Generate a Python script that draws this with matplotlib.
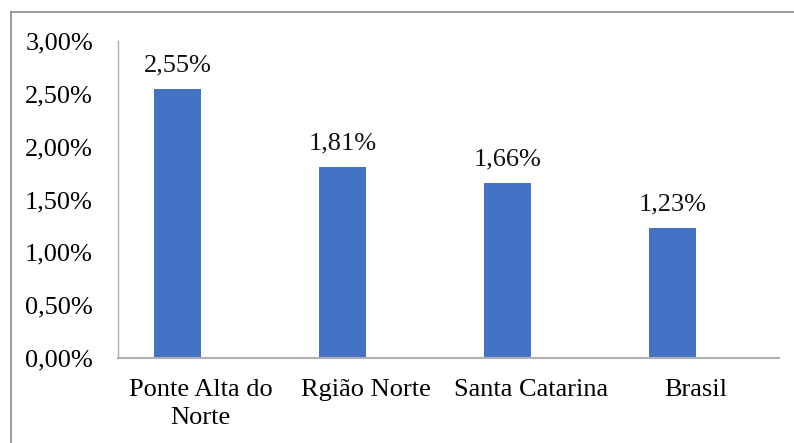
import matplotlib
matplotlib.use('Agg')

import numpy as np
import matplotlib.pyplot as plt
from matplotlib.lines import Line2D

categories = ['Ponte Alta do\nNorte', 'Rgião Norte', 'Santa Catarina', 'Brasil']
values = [2.55, 1.81, 1.66, 1.23]
yticks = [0.0, 0.5, 1.0, 1.5, 2.0, 2.5, 3.0]

FSIZE = 19
plt.rcParams['font.family'] = ['Liberation Serif', 'DejaVu Serif']

fig = plt.figure(figsize=(7.94, 4.43), dpi=100)
ax = fig.add_axes([118/794, 1-358/443, (778.5-118)/794, (358-41)/443])

x = np.arange(len(values))
ax.bar(x, values, width=0.285, color='#4472C4')

for xi, v in zip(x, values):
    ax.annotate(('%.2f%%' % v).replace('.', ','), (xi, v), xytext=(0, 9),
                textcoords='offset points', ha='center', va='bottom',
                fontsize=FSIZE, color='#111111')

ax.set_xlim(-0.36, 3.64)
ax.set_ylim(0, 3.0)
ax.set_yticks(yticks)
ax.set_yticklabels([('%.2f%%' % t).replace('.', ',') for t in yticks], fontsize=FSIZE)
ax.set_xticks(x + 0.14)
ax.set_xticklabels(categories, fontsize=FSIZE, linespacing=1.35)
ax.tick_params(axis='y', length=0, pad=18)
ax.tick_params(axis='x', length=0, pad=15)

for s in ['top', 'right']:
    ax.spines[s].set_visible(False)
ax.spines['left'].set_color('#b0b0b0')
ax.spines['bottom'].set_color('#b0b0b0')
ax.spines['left'].set_linewidth(1.0)
ax.spines['bottom'].set_linewidth(1.5)

# outer chart border
bx = 10.5/794
by = 1 - 11.5/443
fig.add_artist(Line2D([bx, bx], [-0.1, by], transform=fig.transFigure, color='#8c8c8c', lw=1.2))
fig.add_artist(Line2D([bx, 1.1], [by, by], transform=fig.transFigure, color='#8c8c8c', lw=1.2))

plt.savefig('out.png', dpi=100)
